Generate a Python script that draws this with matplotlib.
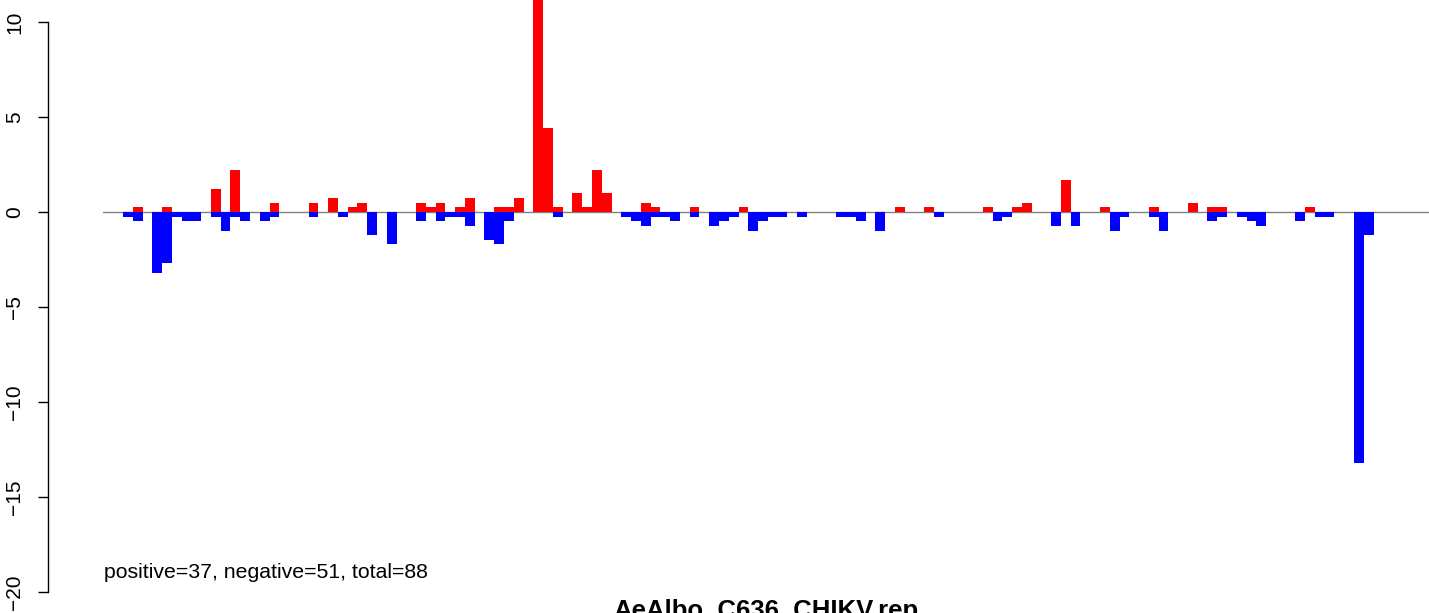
import matplotlib
matplotlib.use("Agg")
import matplotlib.pyplot as plt
import numpy as np

plt.rcParams["font.family"] = ["Liberation Sans", "DejaVu Sans"]

# bin index -> value
pos_bins = [1, 4, 9, 11, 15, 19, 21, 23, 24, 30, 31, 32, 34, 35, 38, 39, 40,
            42, 43, 44, 46, 47, 48, 49, 53, 54, 58, 63, 79, 82, 88, 91, 92,
            96, 100, 105, 109, 111, 112, 121]
pos_vals = [0.24, 0.24, 1.22, 2.2, 0.49, 0.49, 0.74, 0.24, 0.49, 0.49, 0.24,
            0.49, 0.24, 0.74, 0.24, 0.24, 0.74, 12.5, 4.41, 0.24, 0.98, 0.24,
            2.2, 0.98, 0.49, 0.24, 0.24, 0.24, 0.24, 0.24, 0.24, 0.24, 0.49,
            1.71, 0.24, 0.24, 0.49, 0.24, 0.24, 0.24]

neg_bins = [0, 1, 3, 4, 5, 6, 7, 9, 10, 11, 12, 14, 15, 19, 22, 25, 27, 30,
            32, 33, 34, 35, 37, 38, 39, 44, 51, 52, 53, 54, 55, 56, 58, 60,
            61, 62, 64, 65, 66, 67, 69, 73, 74, 75, 77, 83, 89, 90, 95, 97,
            101, 102, 105, 106, 111, 112, 114, 115, 116, 120, 122, 123, 126,
            127]
neg_vals = [-0.25, -0.49, -3.19, -2.69, -0.25, -0.49, -0.49, -0.25, -0.98,
            -0.25, -0.49, -0.49, -0.25, -0.25, -0.25, -1.22, -1.71, -0.49,
            -0.49, -0.25, -0.25, -0.74, -1.47, -1.71, -0.49, -0.25, -0.25,
            -0.49, -0.74, -0.25, -0.25, -0.49, -0.25, -0.74, -0.49, -0.25,
            -0.98, -0.49, -0.25, -0.25, -0.25, -0.25, -0.25, -0.49, -0.98,
            -0.25, -0.49, -0.25, -0.74, -0.74, -0.98, -0.25, -0.25, -0.98,
            -0.49, -0.25, -0.25, -0.49, -0.74, -0.49, -0.25, -0.25, -13.23,
            -1.22]

yticks = [-20, -15, -10, -5, 0, 5, 10]
note = "positive=37, negative=51, total=88"
title = "AeAlbo_C636_CHIKV.rep"

W, H = 1429, 613
fig = plt.figure(figsize=(W / 100, H / 100), dpi=100)

# axes in pixel terms: left 103, right 1429, top 0, bottom 600
ax = fig.add_axes([103 / W, (H - 600) / H, (W - 103) / W, 600 / H])
ax.bar(pos_bins, pos_vals, width=1, align="edge", color="#ff0000",
       linewidth=0, zorder=2)
ax.bar(neg_bins, neg_vals, width=1, align="edge", color="#0000ff",
       linewidth=0, zorder=2)
ax.axhline(0, color="#808080", lw=1, zorder=1)

ax.set_xlim(-20 / 9.77, (W - 123) / 9.77)
ax.set_ylim(-(600 - 212) / 19, 212 / 19)

for s in ["top", "right", "bottom"]:
    ax.spines[s].set_visible(False)
ax.spines["left"].set_position(("outward", 55 * 0.72))
ax.spines["left"].set_bounds(-20, 10)
ax.spines["left"].set_linewidth(1)
ax.set_xticks([])
ax.set_yticks(yticks)
ax.set_yticklabels([str(t).replace("-", "\u2212") for t in yticks],
                   rotation=90, va="center", fontsize=15)
ax.tick_params(axis="y", length=7.2, width=1, pad=10)

fig.text(104 / W, 1 - 572 / H, note, fontsize=15.3, ha="left", va="center")
# title sits below the plot and runs off the bottom edge, as in the source
fig.text(766 / W, 1 - 599 / H, title, fontsize=18.5, fontweight="bold",
         ha="center", va="top")

fig.savefig("out.png", dpi=100)
